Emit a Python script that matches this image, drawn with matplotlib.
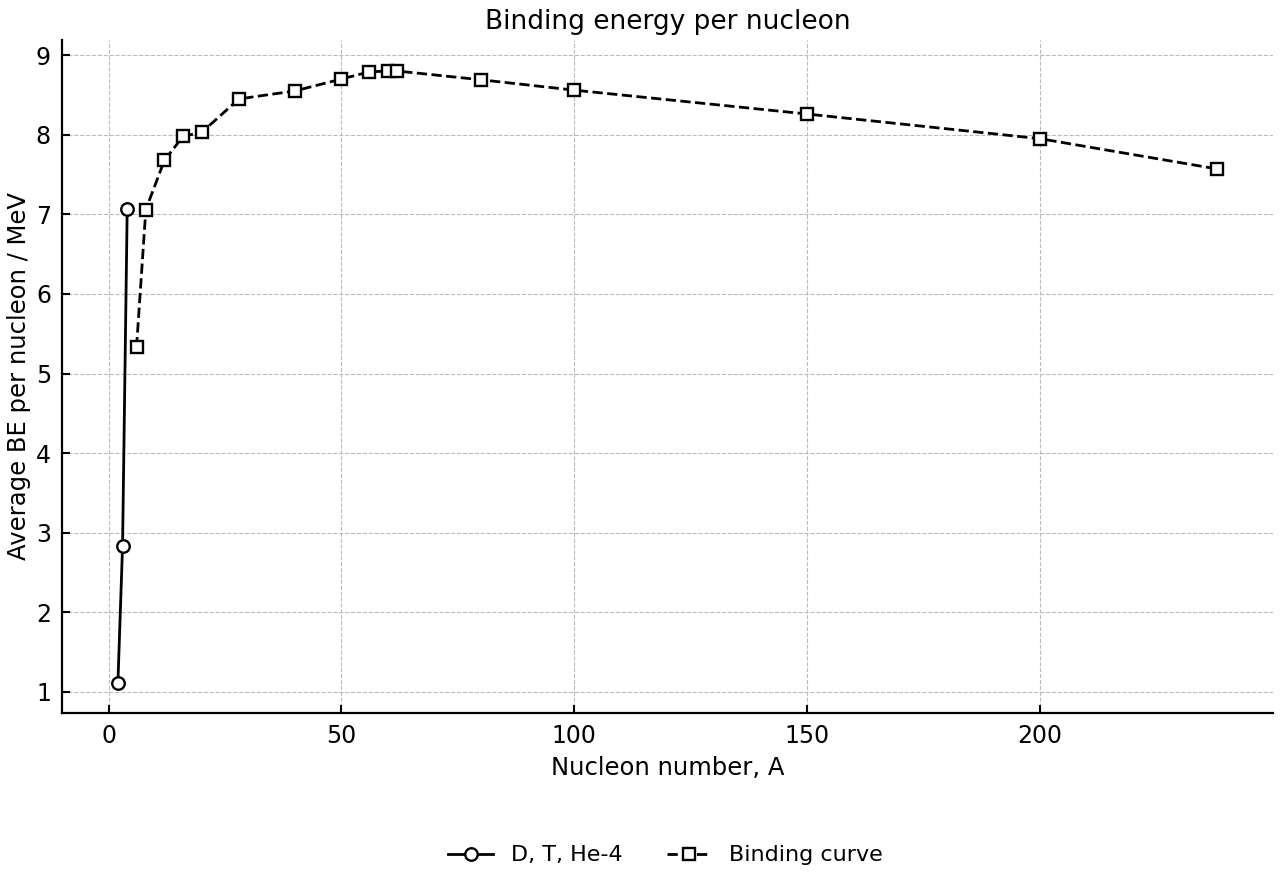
import matplotlib
matplotlib.use("Agg")
import matplotlib.pyplot as plt

light_A = [2, 3, 4]
light_BE = [1.11, 2.83, 7.07]
curve_A = [6, 8, 12, 16, 20, 28, 40, 50, 56, 60, 62, 80, 100, 150, 200, 238]
curve_BE = [5.33, 7.06, 7.68, 7.98, 8.03, 8.45, 8.55, 8.70, 8.79, 8.80, 8.80, 8.69, 8.56, 8.26, 7.95, 7.57]

fig = plt.figure(figsize=(12.8, 8.8), dpi=100)
ax = fig.add_axes([62/1280, 1-713/880, (1273-62)/1280, (713-40)/880])

ax.plot(light_A, light_BE, '-o', color='black', lw=2, ms=9,
        mfc='white', mec='black', mew=1.7, label='D, T, He-4')
ax.plot(curve_A, curve_BE, '--s', color='black', lw=2, ms=9,
        mfc='white', mec='black', mew=1.7, label='Binding curve')

ax.set_xlim(-10, 250)
ax.set_ylim(0.735, 9.19)
ax.set_xticks([0, 50, 100, 150, 200])
ax.set_yticks(range(1, 10))
ax.grid(True, ls='--', color='#bbbbbb', lw=0.8)
ax.spines['top'].set_visible(False)
ax.spines['right'].set_visible(False)
ax.spines['left'].set_linewidth(1.6)
ax.spines['bottom'].set_linewidth(1.6)
ax.tick_params(direction='in', labelsize=17, width=1.5, length=6, pad=8)
ax.set_xlabel('Nucleon number, A', fontsize=17.5, labelpad=6)
ax.set_ylabel('Average BE per nucleon / MeV', fontsize=17.5, labelpad=3)
ax.set_title('Binding energy per nucleon', fontsize=19, pad=8)
fig.legend(loc='lower center', bbox_to_anchor=(0.52, -0.006), ncol=2, frameon=False,
           fontsize=16)

fig.savefig('out.png', dpi=100)
